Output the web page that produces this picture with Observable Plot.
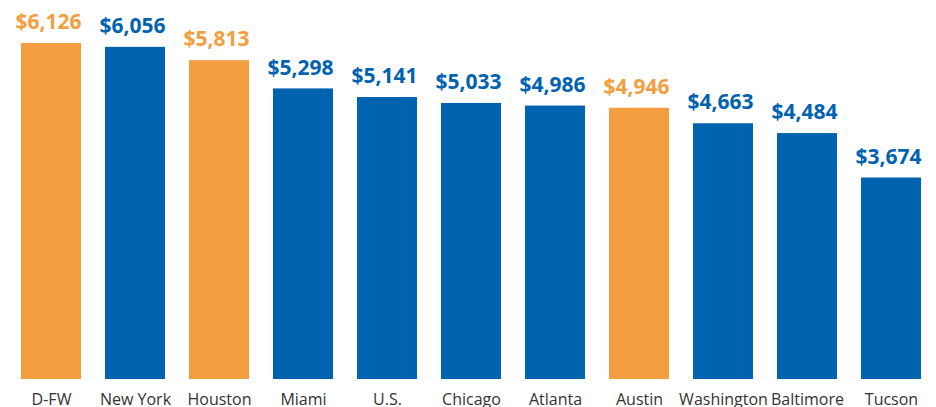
<!DOCTYPE html>
<html>
<head>
<meta charset="utf-8">
<script src="https://cdn.jsdelivr.net/npm/d3@7"></script>
<script src="https://cdn.jsdelivr.net/npm/@observablehq/plot@0.6"></script>
<style>
  html, body { margin: 0; padding: 0; background: #fff; }
  #chart { width: 936px; height: 407px; overflow: hidden; }
</style>
</head>
<body>
<div id="chart"></div>
<script>
const cities = ["D-FW", "New York", "Houston", "Miami", "U.S.", "Chicago", "Atlanta", "Austin", "Washington", "Baltimore", "Tucson"];
const values = [6126, 6056, 5813, 5298, 5141, 5033, 4986, 4946, 4663, 4484, 3674];
const highlighted = ["D-FW", "Houston", "Austin"];

const data = cities.map((c, i) => ({city: c, value: values[i], hi: highlighted.includes(c)}));
const orange = "#F29E41";
const blue = "#0063AF";

const chart = Plot.plot({
  width: 936,
  height: 407,
  marginTop: 43,
  marginBottom: 28,
  marginLeft: 7,
  marginRight: 2,
  style: {fontFamily: "'Open Sans', sans-serif", background: "#fff"},
  x: {domain: cities, paddingInner: 0.288, paddingOuter: 0.144, label: null},
  y: {domain: [0, 6126], axis: null},
  marks: [
    Plot.barY(data, {x: "city", y: "value", fill: d => d.hi ? orange : blue}),
    Plot.text(data, {x: "city", y: "value", text: d => "$" + d3.format(",")(d.value),
      fill: d => d.hi ? orange : blue, fontSize: 21, fontWeight: "bold", dx: -3, dy: -21, lineAnchor: "middle"}),
    Plot.axisX({tickSize: 0, tickPadding: 14, fontSize: 16, color: "#333", label: null})
  ]
});
document.getElementById("chart").appendChild(chart);
</script>
</body>
</html>
